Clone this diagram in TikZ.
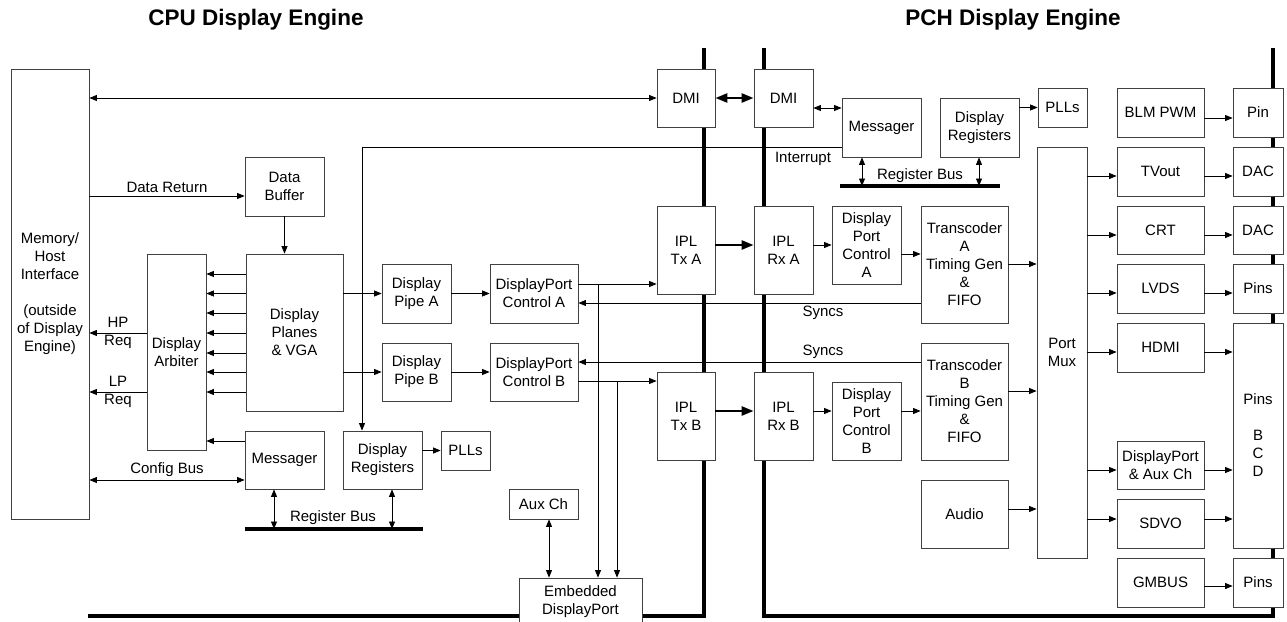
\documentclass[tikz,border=0pt]{standalone}
\usepackage{fontspec}
\setmainfont{Liberation Sans}
\usetikzlibrary{arrows.meta}

\begin{document}
\begin{tikzpicture}[x=1pt,y=-1pt,line width=0.8pt,
  >={Triangle[length=7.5pt,width=6pt]},
  every node/.style={font=\fontsize{15}{18}\selectfont},
  blk/.style={draw=black!75,fill=white,align=center,inner sep=0pt},
  lbl/.style={align=center,inner sep=0pt},
  bus/.style={line width=3.5pt},
  fat/.style={line width=2.5pt,-{Triangle[length=12pt,width=9pt]}},
  fatboth/.style={line width=2.5pt,{Triangle[length=12pt,width=9pt]}-{Triangle[length=12pt,width=9pt]}},
  ttl/.style={font=\fontsize{22.5}{26}\selectfont\bfseries}]
\path[use as bounding box,fill=white] (0,0) rectangle (1287,621);

% titles
\node[ttl] (cputtl) at (256,20) {CPU Display Engine};
\node[ttl] (pchttl) at (1013,20) {PCH Display Engine};

% thick buses
\draw[bus] (88,616) -- (704,616) -- (704,48);
\draw[bus] (764,48) -- (764,616) -- (1273,616) -- (1273,48);
\coordinate (rbc) at (245,529);
\coordinate (rbp) at (840,186);
\draw[bus] (rbc) -- (423,529);
\draw[bus] (rbp) -- (1000,186);

% blocks
\foreach \n/\xa/\ya/\xb/\yb/\t in {
    mem/11/69/89/519/{Memory/\\Host\\Interface\\[\baselineskip](outside\\of Display\\Engine)},
    dbuf/245/157/324/216/{Data\\Buffer},
    arb/147/254/206/450/{Display\\Arbiter},
    planes/246/254/343/411/{Display\\Planes\\\& VGA},
    msgc/245/431/324/489/{Messager},
    dregc/343/431/422/489/{Display\\Registers},
    pllc/441/431/490/470/{PLLs},
    pipea/382/264/451/323/{Display\\Pipe A},
    pipeb/382/343/451/401/{Display\\Pipe B},
    dpca/490/264/578/323/{DisplayPort\\Control A},
    dpcb/490/343/578/401/{DisplayPort\\Control B},
    auxc/509/489/578/519/{Aux Ch},
    edp/519/578/642/626/{Embedded\\DisplayPort},
    dmic/657/69/715/127/{DMI},
    dmip/754/69/813/127/{DMI},
    iplta/657/206/715/294/{IPL\\Tx A},
    iplra/754/206/813/294/{IPL\\Rx A},
    ipltb/657/372/715/460/{IPL\\Tx B},
    iplrb/754/372/813/460/{IPL\\Rx B},
    msgp/842/98/921/157/{Messager},
    dregp/940/98/1019/157/{Display\\Registers},
    pllp/1038/88/1087/127/{PLLs},
    dppa/832/206/901/284/{Display\\Port\\Control\\A},
    dppb/832/382/901/460/{Display\\Port\\Control\\B},
    transa/921/206/1008/323/{Transcoder\\A\\Timing Gen\\\&\\FIFO},
    transb/921/343/1008/460/{Transcoder\\B\\Timing Gen\\\&\\FIFO},
    audio/921/480/1008/548/{Audio},
    mux/1037/147/1087/558/{Port\\Mux},
    blm/1117/88/1204/137/{BLM PWM},
    tvout/1117/147/1204/196/{TVout},
    crt/1117/206/1204/254/{CRT},
    lvds/1117/264/1204/313/{LVDS},
    hdmi/1117/323/1204/372/{HDMI},
    dpaux/1117/441/1204/489/{DisplayPort\\\& Aux Ch},
    sdvo/1117/499/1204/548/{SDVO},
    gmbus/1117/558/1204/607/{GMBUS},
    pin/1233/88/1283/137/{Pin},
    dac1/1233/147/1283/196/{DAC},
    dac2/1233/206/1283/254/{DAC},
    pins1/1233/264/1283/313/{Pins},
    pinsbcd/1233/323/1283/548/{Pins\\[\baselineskip]B\\C\\D},
    pins2/1233/558/1283/607/{Pins}}
  \node[blk,minimum width={\xb-\xa},minimum height={\yb-\ya}] (\n)
    at ({(\xa+\xb)/2},{(\ya+\yb)/2}) {\t};

% CPU side
\draw[<->] (dmic.west) -- (dmic.west -| mem.east);
\draw[->] (mem.east |- 0,196) -- (dbuf.west |- 0,196)
  node[lbl,midway,above=3pt] (drlbl) {Data Return};
\draw[->] (dbuf) -- (dbuf |- planes.north);
\foreach \y in {274,293.5,313,333,353,372,392}
  \draw[->] (planes.west |- 0,\y) -- (arb.east |- 0,\y);
\draw[->] (msgc.west |- 0,441) -- (arb.east |- 0,441);
\draw[->] (arb.west |- 0,333) -- (mem.east |- 0,333);
\node[lbl] (hplbl) at (118,333) {HP\\Req};
\draw[->] (arb.west |- 0,392) -- (mem.east |- 0,392);
\node[lbl] (lplbl) at (118,392) {LP\\Req};
\draw[<->] (mem.east |- 0,480) -- (msgc.west |- 0,480)
  node[lbl,midway,above=3pt] (cblbl) {Config Bus};
\draw[<->] (msgc.south -| 274,0) -- (rbc -| 274,0);
\draw[<->] (dregc.south -| 392,0) -- (rbc -| 392,0);
\node[lbl] (rbclbl) at (333,518) {Register Bus};
\draw[->] (dregc.east |- pllc) -- (pllc.west);
\draw[->] (planes.east |- pipea) -- (pipea.west);
\draw[->] (planes.east |- pipeb) -- (pipeb.west);
\draw[->] (pipea) -- (dpca);
\draw[->] (pipeb) -- (dpcb);
\coordinate (bra) at (598,284);
\coordinate (brb) at (617,381);
\draw[->] (dpca.east |- bra) -- (iplta.west |- bra);
\draw[->] (bra) -- (edp.north -| bra);
\draw[->] (dpcb.east |- brb) -- (ipltb.west |- brb);
\draw[->] (brb) -- (edp.north -| brb);
\draw[<->] (auxc.south -| 549,0) -- (edp.north -| 549,0);

% interrupt
\draw[->] (msgp.west |- 0,147) -| (dregc.north -| 362,0);
\node[lbl] (intlbl) at (803,159) {Interrupt};

% syncs
\draw[->] (transa.west |- 0,303) -- (dpca.east |- 0,303);
\node[lbl] (sylbla) at (823,313) {Syncs};
\draw[->] (transb.west |- 0,362) -- (dpcb.east |- 0,362);
\node[lbl] (sylblb) at (823,352) {Syncs};

% DMI / IPL links
\draw[fatboth] (dmic.east) -- (dmip.west);
\draw[<->] (dmip.east |- 0,108) -- (msgp.west |- 0,108);
\draw[fat] (iplta.east |- 0,245) -- (iplra.west |- 0,245);
\draw[fat] (ipltb.east |- 0,411) -- (iplrb.west |- 0,411);

% PCH side
\draw[<->] (msgp.south -| 862,0) -- (rbp -| 862,0);
\draw[<->] (dregp.south -| 979,0) -- (rbp -| 979,0);
\node[lbl] (rbplbl) at (920,176) {Register Bus};
\draw[->] (dregp.east |- pllp) -- (pllp.west);
\draw[->] (iplra.east |- dppa) -- (dppa.west);
\draw[->] (dppa.east |- 0,254) -- (transa.west |- 0,254);
\draw[->] (transa.east |- 0,264) -- (mux.west |- 0,264);
\draw[->] (iplrb.east |- 0,411) -- (dppb.west |- 0,411);
\draw[->] (dppb.east |- 0,411) -- (transb.west |- 0,411);
\draw[->] (transb.east |- 0,391) -- (mux.west |- 0,391);
\draw[->] (audio.east |- 0,509) -- (mux.west |- 0,509);
\foreach \b/\y in {tvout/176,crt/235,lvds/293,hdmi/352,dpaux/470,sdvo/519}
  \draw[->] (mux.east |- 0,\y) -- (\b.west |- 0,\y);
\foreach \a/\b/\y in {blm/pin/118,tvout/dac1/176,crt/dac2/235,lvds/pins1/293,
    hdmi/pinsbcd/352,dpaux/pinsbcd/470,sdvo/pinsbcd/519,gmbus/pins2/586}
  \draw[->] (\a.east |- 0,\y) -- (\b.west |- 0,\y);
\end{tikzpicture}
\end{document}
